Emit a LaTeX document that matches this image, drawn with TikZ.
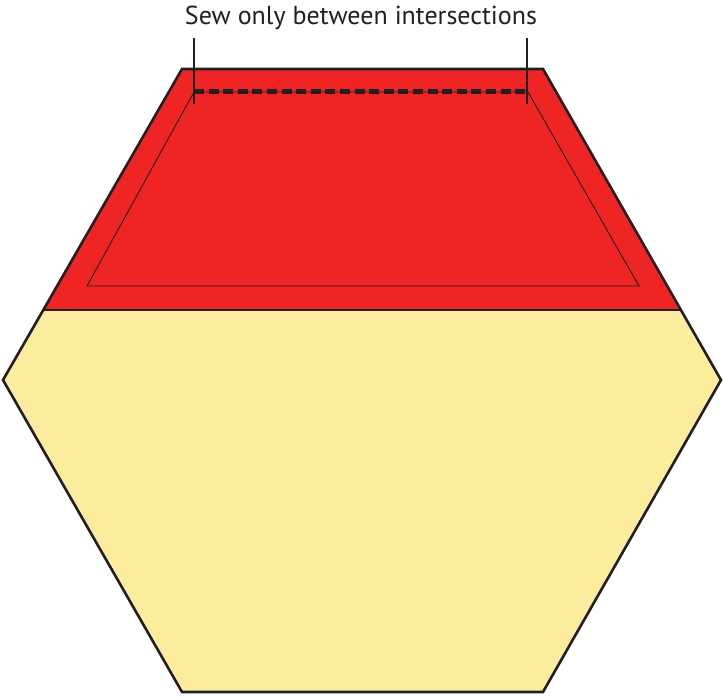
\documentclass[tikz,border=0pt]{standalone}
\usepackage{fontspec}
\setmainfont{PT Sans}
\definecolor{hexred}{HTML}{EE2524}
\definecolor{hexyellow}{HTML}{FCEC9E}
\definecolor{ink}{HTML}{231F20}
\begin{document}
\begin{tikzpicture}[x=1pt,y=-1pt,
  outline/.style={draw=ink,line width=2.6pt,line join=miter},
  thinline/.style={draw=ink,line width=0.9pt},
  seam/.style={draw=ink,line width=5pt,dash pattern=on 10pt off 4.6pt},
  tick/.style={draw=ink,line width=1.2pt}]
\useasboundingbox (0,0) rectangle (724,698);
% vertices
\coordinate (tl) at (182,69);
\coordinate (tr) at (543,69);
\coordinate (r) at (721,380);
\coordinate (br) at (543,692);
\coordinate (bl) at (182,692);
\coordinate (l) at (3,380);
\coordinate (ml) at (44.3,310);
\coordinate (mr) at (681,310);
% fills
\fill[hexyellow] (ml) -- (mr) -- (r) -- (br) -- (bl) -- (l) -- cycle;
\fill[hexred] (tl) -- (tr) -- (mr) -- (ml) -- cycle;
% inner trapezoid
\coordinate (itl) at (194,92);
\coordinate (itr) at (528,92);
\coordinate (ibr) at (639,286);
\coordinate (ibl) at (87,286);
\draw[thinline] (itl) -- (itr) -- (ibr) -- (ibl) -- cycle;
% middle seam line
\draw[draw=ink,line width=2pt] (ml) -- (mr);
% outline
\draw[outline] (tl) -- (tr) -- (r) -- (br) -- (bl) -- (l) -- cycle;
% dashed sewing line
\draw[seam] (itl) -- (itr);
% ticks
\coordinate (ltop) at (194,38);
\coordinate (lbot) at (194,104);
\coordinate (rtop) at (527,38);
\coordinate (rbot) at (527,104);
\draw[tick] (ltop) -- (lbot);
\draw[tick] (rtop) -- (rbot);
\node[text=ink,font=\fontsize{26}{30}\selectfont,anchor=base] (lbl) at (361,25) {Sew only between intersections};
\end{tikzpicture}
\end{document}
